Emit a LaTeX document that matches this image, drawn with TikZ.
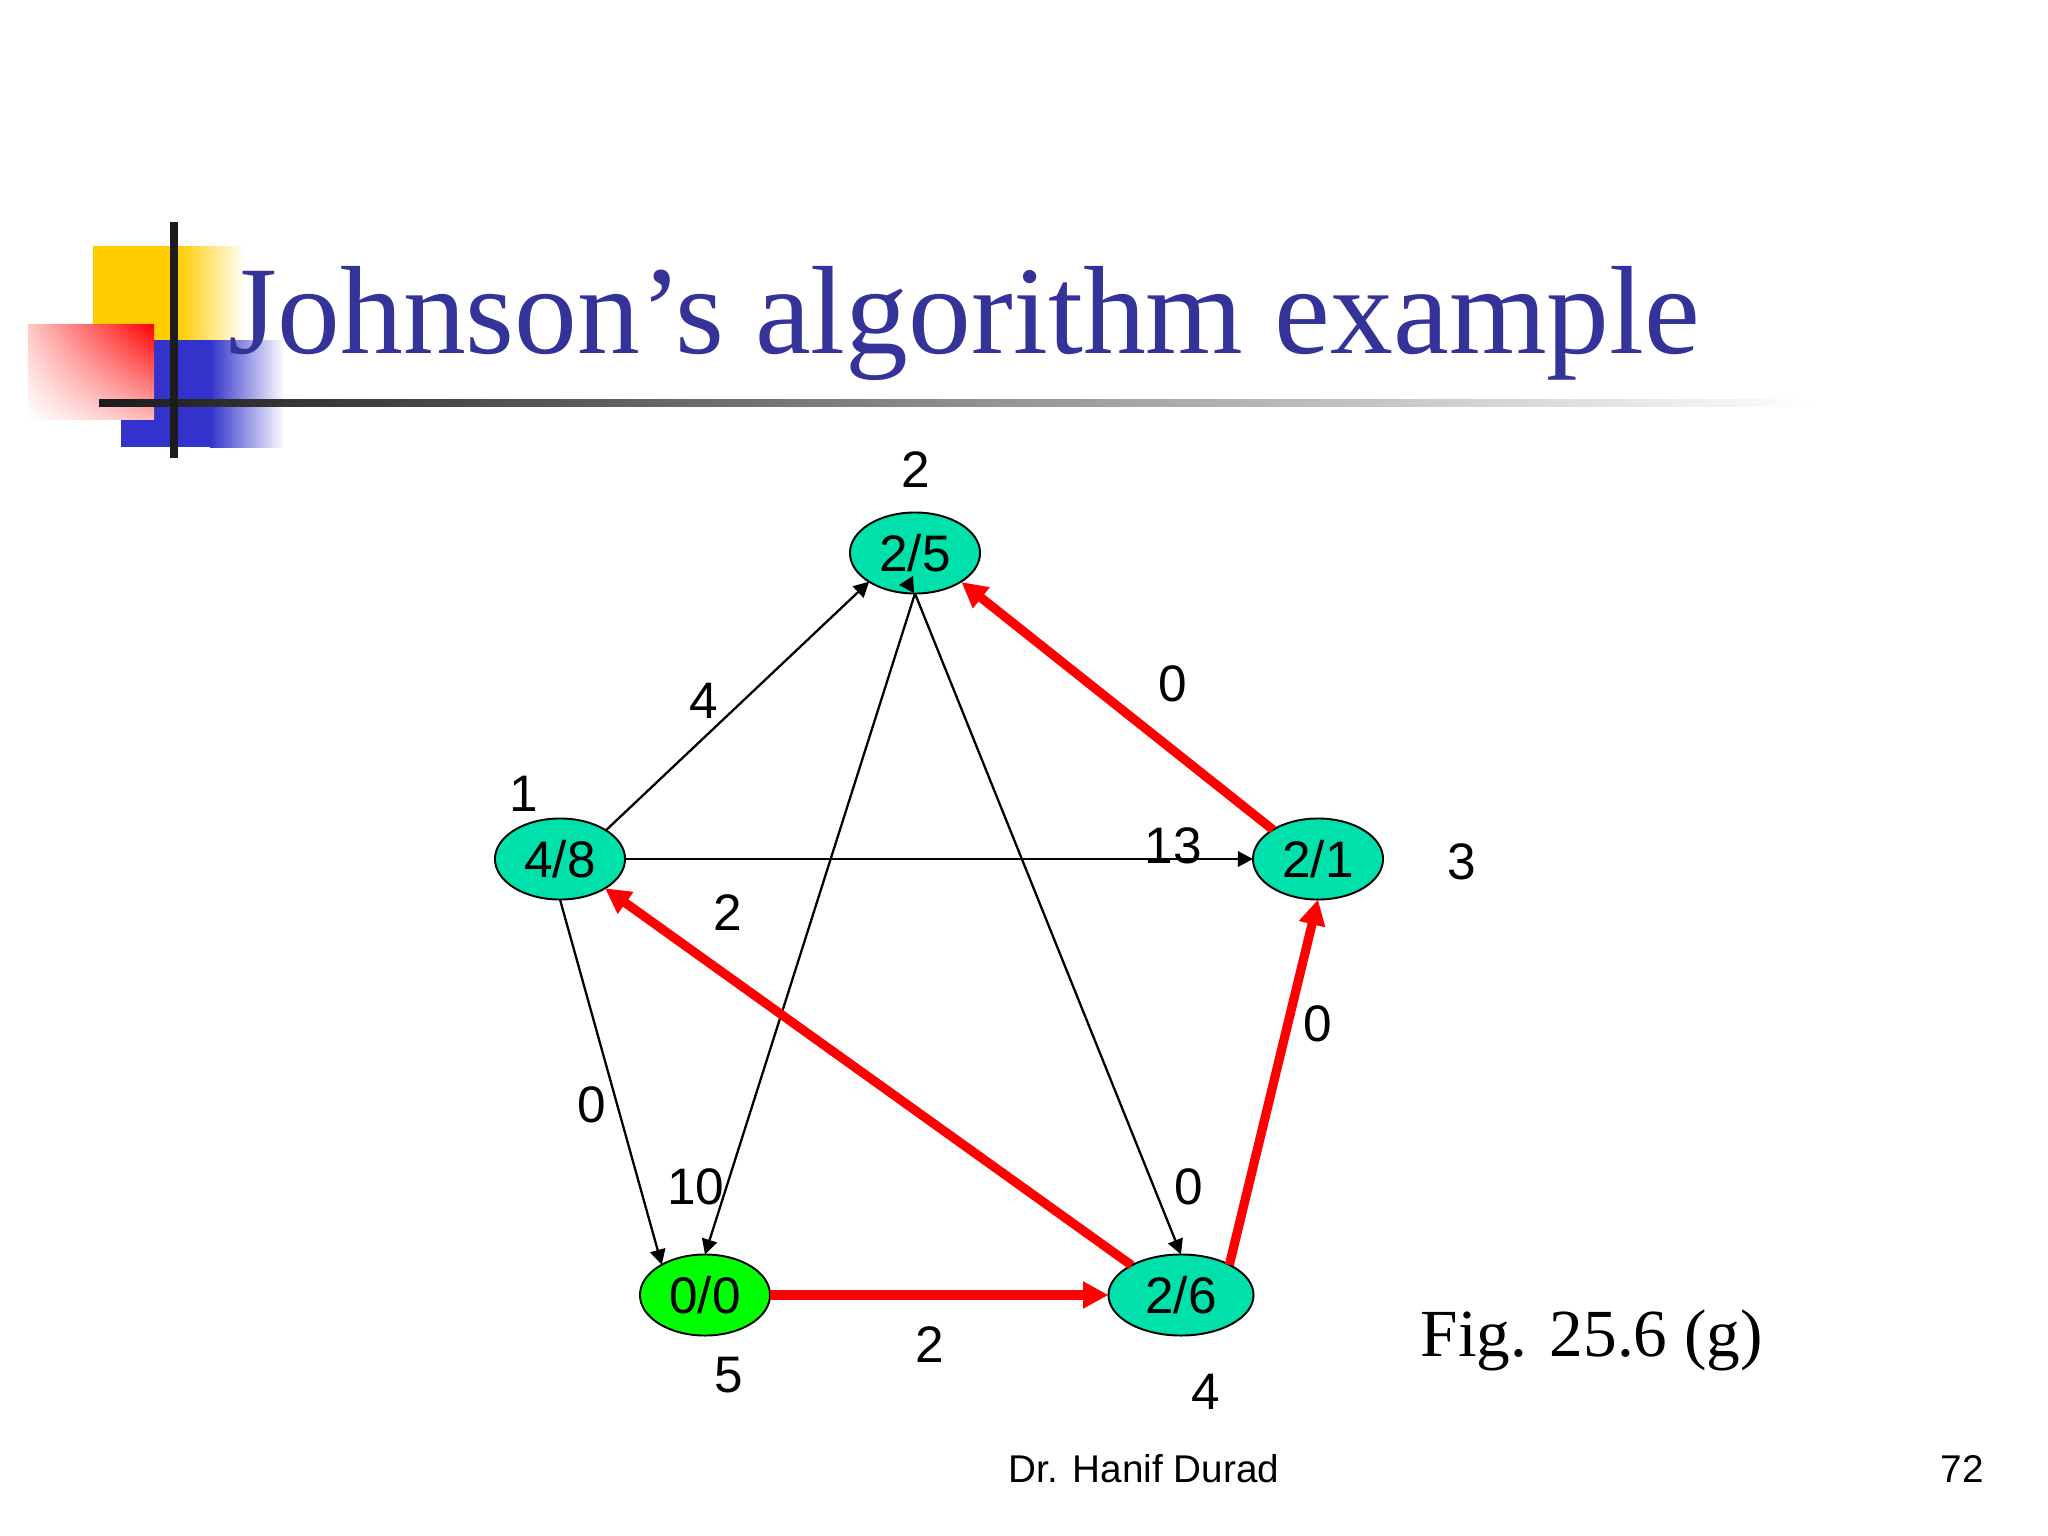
\documentclass[tikz,border=0pt]{standalone}
\usepackage{fontspec}
\setmainfont{Liberation Sans}
\newfontfamily\serifface{Liberation Serif}
\usetikzlibrary{arrows.meta,shapes.geometric,shadings}
\definecolor{titleblue}{HTML}{333399}
\definecolor{nodeteal}{HTML}{00E0AA}
\definecolor{nodegreen}{HTML}{00FF00}
\definecolor{barblack}{HTML}{1C1C1C}
\definecolor{decoyellow}{HTML}{FFCC00}
\definecolor{decoblue}{HTML}{3333CC}
\tikzset{
  x=0.01cm,y=-0.01cm,
  vertex/.style={ellipse,draw=black,line width=0.55pt,inner sep=0pt,outer sep=0pt,minimum width=1.3cm,minimum height=0.81cm,fill=nodeteal,font=\fontsize{14.6}{16}\selectfont},
  lab/.style={inner sep=0pt,outer sep=0pt,font=\fontsize{14.6}{16}\selectfont},
  thinedge/.style={draw=black,line width=0.65pt,-{Triangle[length=4.3pt,width=4.4pt]}},
  rededge/.style={draw=red,line width=2.6pt,-{Triangle[length=7.2pt,width=7.2pt]}},
}
\begin{document}
\begin{tikzpicture}
\useasboundingbox (0,0) rectangle (2048,1536);
\fill[white] (0,0) rectangle (2048,1536);
% decoration
\fill[decoyellow] (93,246) rectangle (178,340);
\shade[left color=decoyellow,middle color=decoyellow!40!white,right color=white] (178,246) rectangle (245,340);
\fill[decoblue] (121,340) rectangle (210,447);
\shade[left color=decoblue,middle color=decoblue!38!white,right color=white] (210,340) rectangle (285,447);
\shade[upper right=red,upper left=red!22!white,lower right=red!28!white,lower left=white] (28,324) rectangle (154,419);
\shade[left color=barblack,right color=white] (99,399) rectangle (1815,406);
\fill[barblack] (170,222) rectangle (178,458);
% title
\node[anchor=base west,inner sep=0pt,text=titleblue,font=\serifface\fontsize{35.7}{40}\selectfont] (title) at (228,353) {Johnson’s algorithm example};
% vertices
\node[vertex] (n25) at (915,553) {2/5};
\node[vertex] (n48) at (560,859) {4/8};
\node[vertex] (n21) at (1318,859) {2/1};
\node[vertex,fill=nodegreen] (n00) at (705,1295) {0/0};
\node[vertex,minimum width=1.45cm] (n26) at (1181,1295) {2/6};
% black edges
\draw[thinedge] (n48.32) -- (n25.212);
\draw[thinedge] (n48) -- (n21);
\draw[thinedge] (n48.south) -- (n00.145);
\draw[thinedge] (n25.south) -- (n00.north);
\draw[thinedge] (n25.south) -- (n26.north);
\coordinate (stubA) at (913,576);
\coordinate (stubB) at (899,585);
\coordinate (stubC) at (914,593);
\fill[black] (stubA) -- (stubB) -- (stubC) -- cycle;
% red edges
\draw[rededge,shorten >=0.2pt] (n21.147) -- (n25.-32);
\draw[rededge] (n26.149) -- (n48.-33);
\draw[rededge] (n00) -- (n26);
\draw[rededge] (n26.32) -- (n21.south);
% labels
\node[lab] (l2) at (916,470) {2};
\node[lab] (l1) at (524,794) {1};
\node[lab] (l3) at (1462,862) {3};
\node[lab] (l4) at (1206,1392) {4};
\node[lab] (l5) at (729,1375) {5};
\node[lab] (e4) at (704,701) {4};
\node[lab] (e0a) at (1173,684) {0};
\node[lab] (e13) at (1173,846) {13};
\node[lab] (e2a) at (728,913) {2};
\node[lab] (e0b) at (1318,1024) {0};
\node[lab] (e0c) at (592,1105) {0};
\node[lab] (e10) at (696,1187) {10};
\node[lab] (e0d) at (1189,1187) {0};
\node[lab] (e2b) at (930,1345) {2};
\node[anchor=base west,inner sep=0pt,font=\serifface\fontsize{19.15}{22}\selectfont] (fig) at (1420,1356) {Fig. 25.6 (g)};
\node[inner sep=0pt,font=\fontsize{11}{13}\selectfont] (foot) at (1144,1469) {Dr. Hanif Durad};
\node[inner sep=0pt,font=\fontsize{11}{13}\selectfont] (page) at (1962,1469) {72};
\end{tikzpicture}
\end{document}
